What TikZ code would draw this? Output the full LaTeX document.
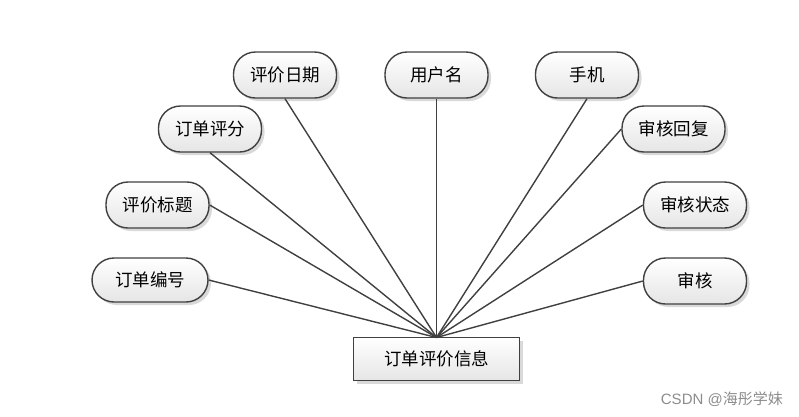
\documentclass[tikz,border=0pt]{standalone}
\usepackage{fontspec}
\newfontfamily\cjk{Noto Sans CJK SC}
\usetikzlibrary{shadows}
\definecolor{edgec}{HTML}{404040}
\tikzset{
  attr/.style={draw=edgec, line width=1.4pt, rounded corners=22pt, minimum width=103pt, minimum height=46pt,
    top color=white, bottom color=black!10, font=\cjk\fontsize{17.5}{19}\selectfont, inner sep=0pt,
    drop shadow={shadow xshift=3pt, shadow yshift=-3pt, opacity=0.25, fill=black!60}},
  entity/.style={draw=edgec, line width=1.4pt, minimum width=166pt, minimum height=43pt,
    top color=white, bottom color=black!10, font=\cjk\fontsize{17.5}{19}\selectfont, inner sep=0pt,
    drop shadow={shadow xshift=3pt, shadow yshift=-3pt, opacity=0.25, fill=black!60}},
  link/.style={draw=edgec, line width=1.4pt}
}
\begin{document}
\begin{tikzpicture}[x=1pt,y=-1pt]
\useasboundingbox (0,0) rectangle (799,416);
\node[entity] (e) at (436.5,359) {订单评价信息};
\coordinate (c) at (436.5,337.5);
\node[attr] (a1) at (285,75) {评价日期};
\node[attr] (a2) at (436.5,75) {用户名};
\node[attr] (a3) at (587,75) {手机};
\node[attr] (a4) at (210,129) {订单评分};
\node[attr] (a5) at (673.5,129) {审核回复};
\node[attr] (a6) at (157.5,205) {评价标题};
\node[attr] (a7) at (695,205) {审核状态};
\node[attr, minimum width=116pt, minimum height=44pt] (a8) at (150,280) {订单编号};
\node[attr] (a9) at (695,281) {审核};
\foreach \n in {a1,a2,a3,a4} \draw[link] (\n.south) -- (c);
\foreach \n in {a5,a7,a9} \draw[link] (\n.west) -- (c);
\foreach \n in {a6,a8} \draw[link] (\n.east) -- (c);
\node[font=\fontspec{Liberation Sans}\fontsize{15}{17}\selectfont, text=black!45, anchor=east, inner sep=0pt] (wm) at (783,399) {CSDN @\cjk 海彤学妹};
\end{tikzpicture}
\end{document}
